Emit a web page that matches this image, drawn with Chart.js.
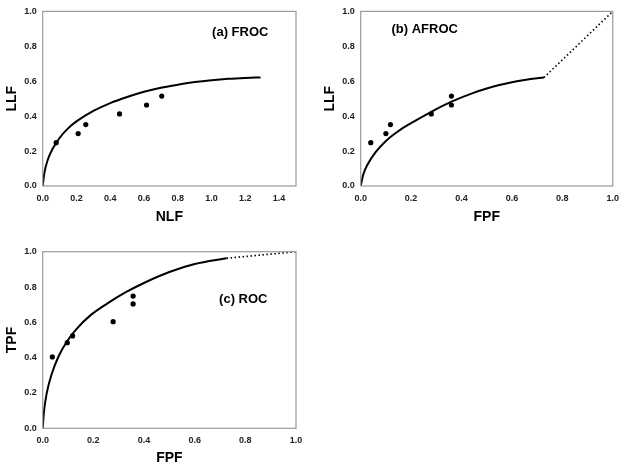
<!DOCTYPE html>
<html>
<head>
<meta charset="utf-8">
<script src="https://cdn.jsdelivr.net/npm/chart.js@4/dist/chart.umd.min.js"></script>
<style>
  html, body { margin: 0; padding: 0; background: #fff; overflow: hidden; }
  body { width: 626px; height: 469px; position: relative; }
  .panel { position: absolute; }
</style>
</head>
<body>
<div class="panel" style="left:0;top:0;width:310px;height:235px"><canvas id="froc-chart"></canvas></div>
<div class="panel" style="left:318px;top:0;width:308px;height:235px"><canvas id="afroc-chart"></canvas></div>
<div class="panel" style="left:0;top:235px;width:310px;height:234px"><canvas id="roc-chart"></canvas></div>
<script>
// ---- data ----
// operating points
const frocNLF = [0.08, 0.21, 0.255, 0.455, 0.615, 0.705];
const frocLLF = [0.248, 0.30, 0.352, 0.413, 0.464, 0.515];
const afrocFPF = [0.04, 0.10, 0.118, 0.28, 0.36, 0.36];
const afrocLLF = [0.248, 0.30, 0.352, 0.413, 0.464, 0.515];
const rocFPF = [0.038, 0.097, 0.118, 0.278, 0.357, 0.357];
const rocTPF = [0.404, 0.485, 0.523, 0.604, 0.704, 0.749];

// fitted curves
const frocCurveNLF = [0, 0.01, 0.03, 0.06, 0.1, 0.15, 0.2, 0.3, 0.4, 0.5, 0.6, 0.7, 0.8, 0.9, 1.0, 1.1, 1.2, 1.29];
const frocCurveLLF = [0, 0.075, 0.15, 0.215, 0.275, 0.33, 0.37, 0.43, 0.475, 0.51, 0.54, 0.563, 0.58, 0.595, 0.606, 0.614, 0.619, 0.622];
const afrocCurveFPF = [0, 0.01, 0.03, 0.06, 0.1, 0.15, 0.2, 0.28, 0.36, 0.45, 0.5, 0.55, 0.6, 0.65, 0.7, 0.727];
const afrocCurveLLF = [0, 0.065, 0.13, 0.195, 0.258, 0.315, 0.36, 0.425, 0.483, 0.535, 0.558, 0.578, 0.594, 0.607, 0.617, 0.621];
const rocCurveFPF = [0, 0.005, 0.016, 0.035, 0.062, 0.095, 0.134, 0.187, 0.253, 0.33, 0.41, 0.5, 0.6, 0.726];
const rocCurveTPF = [0, 0.094, 0.2, 0.305, 0.405, 0.49, 0.563, 0.638, 0.705, 0.772, 0.83, 0.885, 0.93, 0.963];

// dotted extensions to (1,1)
const afrocExtFPF = [0.727, 1.0];
const afrocExtLLF = [0.621, 1.0];
const rocExtFPF = [0.726, 1.0];
const rocExtTPF = [0.963, 1.0];

// tick labels
const nlfTicks = [0, 0.2, 0.4, 0.6, 0.8, 1.0, 1.2, 1.4];
const fpfTicks = [0, 0.2, 0.4, 0.6, 0.8, 1.0];
const yTicks = [0, 0.2, 0.4, 0.6, 0.8, 1.0];

const FONT = '"Liberation Sans", Arial, sans-serif';

const zip = (xs, ys) => xs.map((x, i) => ({ x, y: ys[i] }));

// gray box round the plot area plus the panel label
const framePlugin = {
  id: 'frame',
  afterDraw(chart, args, opts) {
    const { ctx, chartArea: a, scales } = chart;
    ctx.save();
    ctx.strokeStyle = '#9a9a9a';
    ctx.lineWidth = 1.2;
    ctx.strokeRect(a.left, a.top, a.right - a.left, a.bottom - a.top);
    if (opts.label) {
      ctx.fillStyle = '#000';
      ctx.font = 'bold 13px ' + FONT;
      ctx.textAlign = 'center';
      ctx.textBaseline = 'middle';
      ctx.fillText(opts.label, scales.x.getPixelForValue(opts.lx), scales.y.getPixelForValue(opts.ly));
    }
    ctx.restore();
  }
};

function curveSet(data, dashed) {
  return {
    type: 'line',
    data,
    showLine: true,
    borderColor: '#000',
    borderWidth: dashed ? 1.6 : 2,
    borderDash: dashed ? [1.5, 2.5] : [],
    pointRadius: 0,
    tension: dashed ? 0 : 0.4,
    cubicInterpolationMode: 'monotone',
    fill: false
  };
}

function makeChart(id, cfg) {
  const ctx = document.getElementById(id).getContext('2d');
  const datasets = [
    {
      type: 'scatter',
      data: cfg.points,
      backgroundColor: '#000',
      borderColor: '#000',
      pointRadius: 2.6,
      pointBorderWidth: 0
    },
    curveSet(cfg.curve, false)
  ];
  if (cfg.ext) datasets.push(curveSet(cfg.ext, true));

  return new Chart(ctx, {
    type: 'scatter',
    data: { datasets },
    plugins: [framePlugin],
    options: {
      responsive: true,
      maintainAspectRatio: false,
      animation: false,
      layout: { padding: { left: 0, top: cfg.padTop, right: cfg.padRight, bottom: 0 } },
      plugins: {
        legend: { display: false },
        tooltip: { enabled: false },
        frame: { label: cfg.label, lx: cfg.lx, ly: cfg.ly }
      },
      scales: {
        x: {
          type: 'linear',
          min: 0,
          max: cfg.xMax,
          afterFit: s => { s.height = cfg.xAxisHeight; },
          afterBuildTicks: s => { s.ticks = cfg.xTicks.map(v => ({ value: v })); },
          grid: { display: false, drawTicks: false },
          border: { display: false },
          ticks: {
            padding: 7,
            color: '#222',
            font: { family: FONT, size: 9, weight: 'bold' },
            maxRotation: 0,
            callback: v => v.toFixed(1)
          },
          title: {
            display: true,
            text: cfg.xTitle,
            color: '#000',
            font: { family: FONT, size: 14, weight: 'bold' },
            padding: { top: 0, bottom: cfg.xTitlePad }
          }
        },
        y: {
          type: 'linear',
          min: 0,
          max: 1,
          afterFit: s => { s.width = 42.7; },
          afterBuildTicks: s => { s.ticks = yTicks.map(v => ({ value: v })); },
          grid: { display: false, drawTicks: false },
          border: { display: false },
          ticks: {
            padding: 6,
            color: '#222',
            font: { family: FONT, size: 9, weight: 'bold' },
            callback: v => v.toFixed(1)
          },
          title: {
            display: true,
            text: cfg.yTitle,
            color: '#000',
            font: { family: FONT, size: 14, weight: 'bold' },
            padding: { top: 3.6, bottom: 0 }
          }
        }
      }
    }
  });
}

makeChart('froc-chart', {
  points: zip(frocNLF, frocLLF),
  curve: zip(frocCurveNLF, frocCurveLLF),
  xMax: 1.5, xTicks: nlfTicks,
  xTitle: 'NLF', yTitle: 'LLF',
  padTop: 9.3, padRight: 14, xAxisHeight: 49, xTitlePad: 9.6,
  label: '(a) FROC', lx: 1.17, ly: 0.88
});

makeChart('afroc-chart', {
  points: zip(afrocFPF, afrocLLF),
  curve: zip(afrocCurveFPF, afrocCurveLLF),
  ext: zip(afrocExtFPF, afrocExtLLF),
  xMax: 1.0, xTicks: fpfTicks,
  xTitle: 'FPF', yTitle: 'LLF',
  padTop: 9.3, padRight: 12, xAxisHeight: 49, xTitlePad: 9.6,
  label: '(b) AFROC', lx: 0.254, ly: 0.898
});

makeChart('roc-chart', {
  points: zip(rocFPF, rocTPF),
  curve: zip(rocCurveFPF, rocCurveTPF),
  ext: zip(rocExtFPF, rocExtTPF),
  xMax: 1.0, xTicks: fpfTicks,
  xTitle: 'FPF', yTitle: 'TPF',
  padTop: 16.7, padRight: 14, xAxisHeight: 40.7, xTitlePad: 2.6,
  label: '(c) ROC', lx: 0.792, ly: 0.727
});
</script>
</body>
</html>
